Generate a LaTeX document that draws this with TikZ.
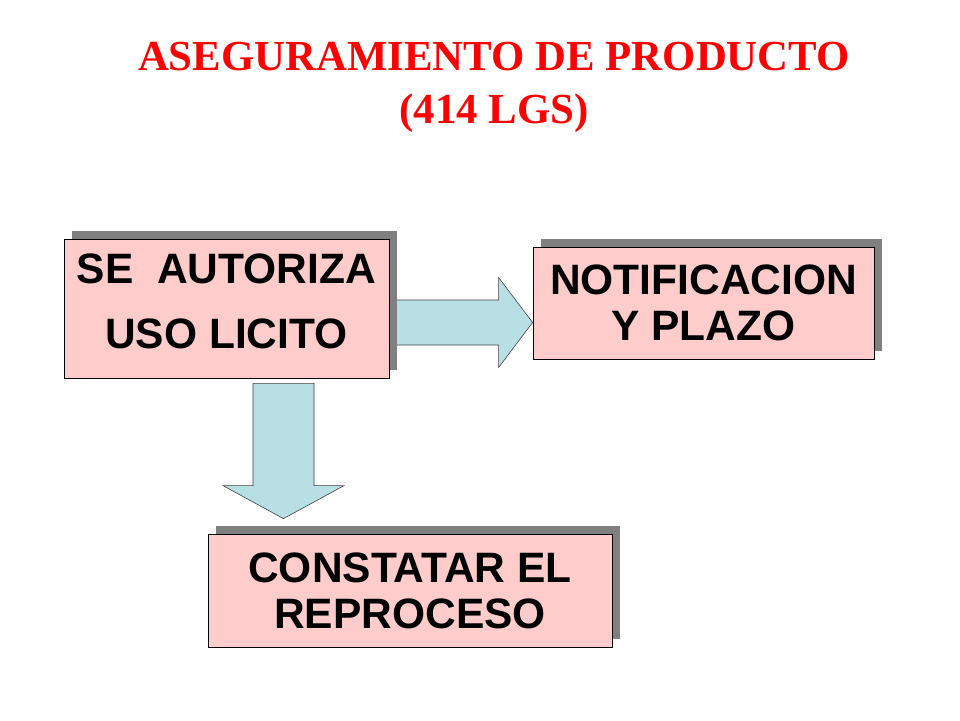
\documentclass[tikz,border=0pt]{standalone}
\usepackage{fontspec}
\setmainfont{Liberation Serif}
\setsansfont{Liberation Sans}
\usepackage{tikz}
\usetikzlibrary{calc,shadows,backgrounds}
\definecolor{rosa}{RGB}{255,204,204}
\definecolor{celeste}{RGB}{184,224,228}
\definecolor{sombra}{RGB}{128,128,128}
\definecolor{rojo}{RGB}{255,0,0}
\definecolor{borde}{RGB}{64,64,64}

\begin{document}
\begin{tikzpicture}[x=1pt, y=-1pt,
	caja/.style={draw=black, line width=0.8pt, fill=rosa, inner sep=0pt, align=center,
		font=\sffamily\bfseries\fontsize{42.5}{46}\selectfont,
		general shadow={fill=sombra, shadow xshift=8pt, shadow yshift=8pt}},
	flecha/.style={draw=borde, line width=0.6pt, fill=celeste, line join=miter}]
		\useasboundingbox (0,0) rectangle (960,720);
		\node[anchor=north, inner sep=0pt, align=center, text=rojo,
		font=\rmfamily\bfseries\fontsize{42.8}{53}\selectfont] (T) at (494,42)
		{ASEGURAMIENTO DE PRODUCTO\\(414 LGS)};
		\node[caja, minimum width=325pt, minimum height=139pt] (A) at (226.5,308.5)
		{SE\ \ AUTORIZA\\[19pt]USO LICITO\rule[-14pt]{0pt}{14pt}};
		\node[caja, minimum width=341pt, minimum height=112pt] (N) at (703.5,303)
		{NOTIFICACION\\Y PLAZO};
		\node[caja, minimum width=404pt, minimum height=113pt] (C) at (410,590.5)
		{CONSTATAR EL\\REPROCESO};
		\coordinate (a1) at ($(A.east)+(0,14)$);
		\coordinate (a2) at (N.west |- a1);
		\coordinate (b1) at ($(A.south)+(57,5)$);
		\coordinate (b2) at ($(b1 |- C.north)+(0,-15)$);
		\begin{pgfonlayer}{background}
		\draw[flecha] ($(a1)+(0,-22.5)$) -- ($(a2)+(-34,-22.5)$) -- ($(a2)+(-34,-45)$)
		-- (a2) -- ($(a2)+(-34,45)$) -- ($(a2)+(-34,22.5)$) -- ($(a1)+(0,22.5)$) -- cycle;
		\draw[flecha] ($(b1)+(-30.5,0)$) -- ($(b2)+(-30.5,-33)$) -- ($(b2)+(-60.5,-33)$)
		-- (b2) -- ($(b2)+(60.5,-33)$) -- ($(b2)+(30.5,-33)$) -- ($(b1)+(30.5,0)$) -- cycle;
		\end{pgfonlayer}
		\end{tikzpicture}
\end{document}
